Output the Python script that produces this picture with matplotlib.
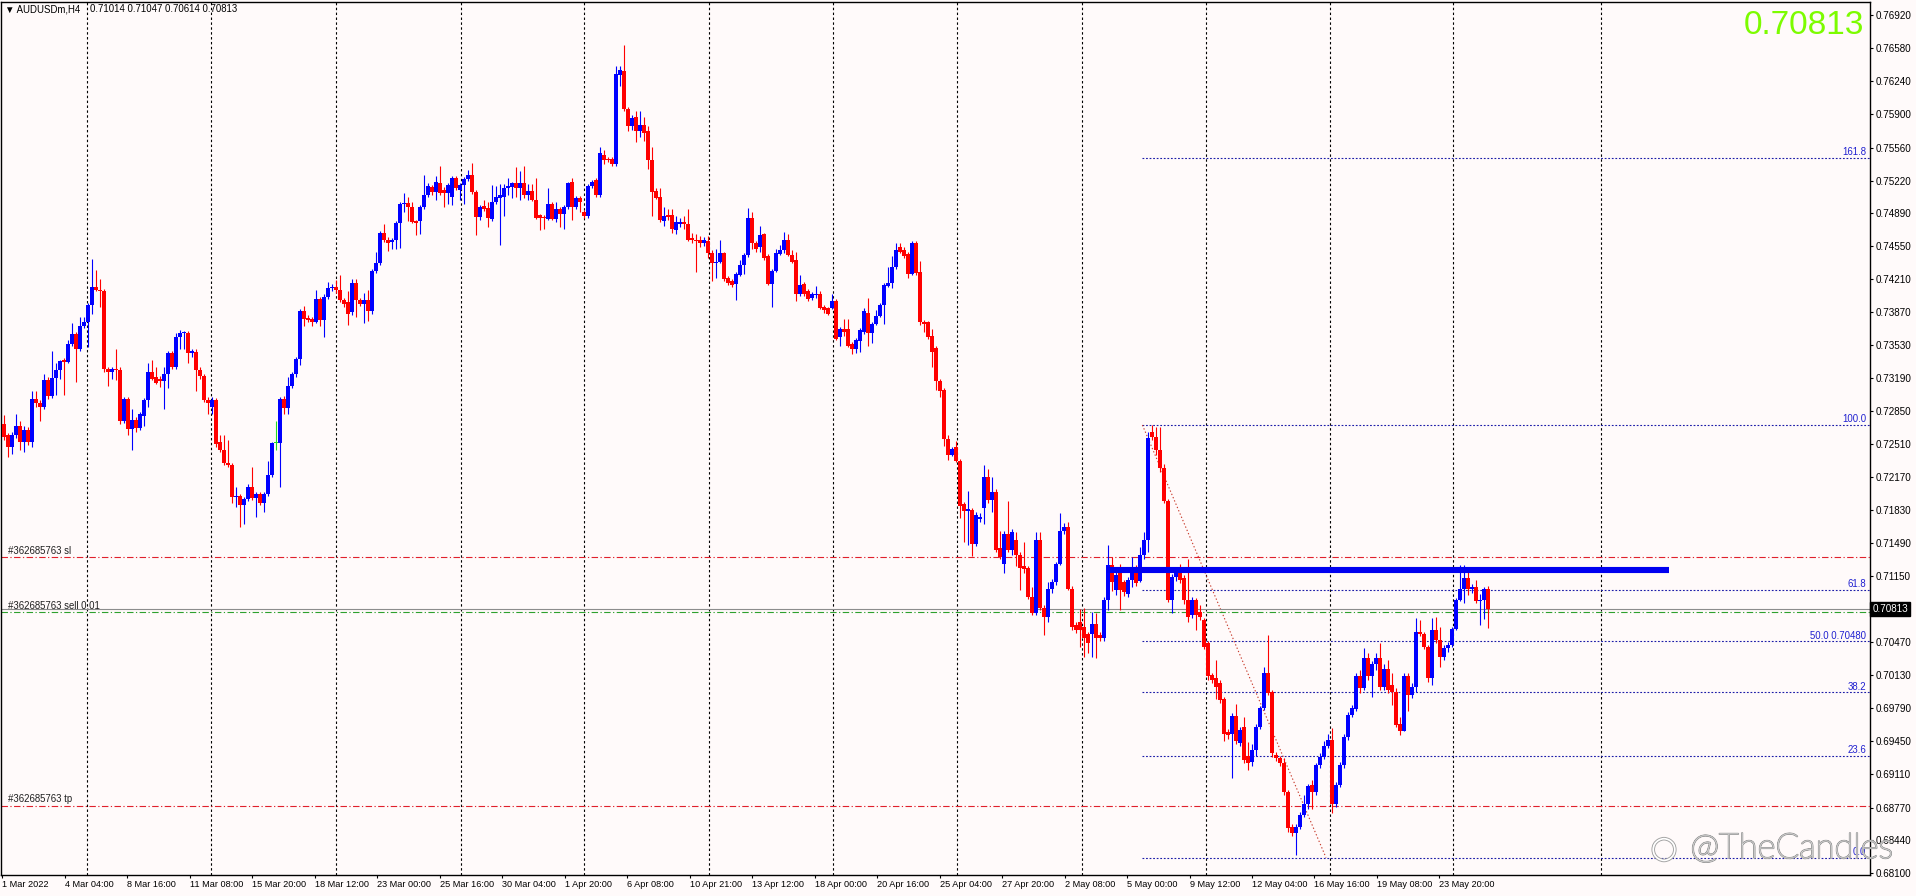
import numpy as np
import matplotlib.pyplot as plt
import matplotlib.patheffects as pe
from matplotlib.transforms import blended_transform_factory

# AUDUSDm H4 candles, prices in pips (x 0.0001)
opens = [
    7272, 7260, 7248, 7260, 7270, 7253, 7265, 7253, 7297, 7293, 7289, 7317, 7300, 7319, 7327, 7337, 7335, 7354, 7364, 7349,
    7372, 7377, 7394, 7413, 7409, 7408, 7328, 7325, 7328, 7327, 7275, 7297, 7266, 7276, 7267, 7280, 7296, 7325, 7320, 7318,
    7316, 7323, 7345, 7330, 7361, 7365, 7365, 7345, 7346, 7327, 7321, 7296, 7289, 7296, 7253, 7245, 7231, 7229, 7196, 7198,
    7188, 7194, 7207, 7195, 7200, 7190, 7200, 7219, 7252, 7252, 7297, 7288, 7311, 7323, 7338, 7388, 7381, 7380, 7377, 7400,
    7379, 7402, 7411, 7413, 7409, 7399, 7397, 7387, 7417, 7399, 7395, 7399, 7388, 7429, 7437, 7468, 7461, 7459, 7461, 7478,
    7498, 7499, 7495, 7480, 7480, 7495, 7507, 7515, 7510, 7520, 7512, 7509, 7505, 7525, 7512, 7517, 7524, 7528, 7510, 7485,
    7496, 7494, 7482, 7500, 7504, 7505, 7514, 7515, 7519, 7514, 7519, 7507, 7511, 7502, 7487, 7485, 7482, 7498, 7482, 7493,
    7488, 7495, 7521, 7495, 7504, 7490, 7486, 7516, 7523, 7507, 7548, 7544, 7544, 7539, 7631, 7635, 7596, 7578, 7587, 7573,
    7579, 7573, 7543, 7511, 7505, 7480, 7487, 7487, 7471, 7477, 7479, 7477, 7463, 7461, 7461, 7458, 7460, 7447, 7437, 7438,
    7447, 7422, 7419, 7416, 7425, 7435, 7445, 7483, 7458, 7454, 7467, 7444, 7416, 7429, 7446, 7451, 7461, 7445, 7440, 7405,
    7416, 7408, 7401, 7404, 7405, 7392, 7391, 7391, 7398, 7361, 7369, 7369, 7354, 7349, 7357, 7366, 7386, 7365, 7374, 7383,
    7394, 7414, 7417, 7433, 7454, 7451, 7446, 7426, 7458, 7428, 7377, 7377, 7362, 7350, 7316, 7307, 7256, 7240, 7248, 7234,
    7189, 7182, 7183, 7148, 7174, 7185, 7217, 7193, 7202, 7144, 7128, 7158, 7142, 7152, 7137, 7125, 7123, 7094, 7077, 7152,
    7082, 7073, 7102, 7109, 7128, 7161, 7166, 7102, 7065, 7068, 7063, 7056, 7056, 7066, 7055, 7051, 7091, 7126, 7101, 7118,
    7109, 7097, 7111, 7123, 7110, 7137, 7152, 7263, 7258, 7245, 7226, 7192, 7090, 7114, 7121, 7113, 7090, 7075, 7090, 7078,
    7070, 7046, 7013, 7010, 7005, 6989, 6955, 6953, 6971, 6943, 6960, 6930, 6924, 6936, 6960, 6979, 7015, 6996, 6931, 6928,
    6923, 6893, 6857, 6851, 6857, 6869, 6881, 6900, 6893, 6921, 6929, 6940, 6946, 6881, 6900, 6921, 6950, 6972, 6978, 7012,
    7000, 7031, 7012, 7025, 7031, 7001, 7020, 7003, 6996, 6963, 6956, 7012, 6993, 7001, 7058, 7056, 7042, 7010, 7060, 7049,
    7032, 7041, 7044, 7061, 7090, 7102, 7113, 7102, 7104, 7089, 7091, 7101.4]

highs = [
    7281, 7262, 7263, 7282, 7275, 7269, 7268, 7306, 7306, 7296, 7323, 7320, 7347, 7334, 7337, 7339, 7358, 7375, 7366, 7382,
    7382, 7396, 7441, 7430, 7421, 7410, 7330, 7330, 7349, 7330, 7299, 7299, 7287, 7279, 7284, 7298, 7334, 7337, 7330, 7321,
    7330, 7347, 7347, 7365, 7368, 7367, 7367, 7349, 7349, 7330, 7323, 7299, 7299, 7298, 7260, 7260, 7255, 7231, 7207, 7200,
    7196, 7210, 7227, 7202, 7202, 7202, 7233, 7253, 7275, 7299, 7300, 7320, 7325, 7340, 7390, 7393, 7384, 7382, 7409, 7402,
    7405, 7418, 7416, 7420, 7425, 7401, 7408, 7421, 7421, 7401, 7406, 7409, 7431, 7449, 7470, 7477, 7464, 7463, 7480, 7500,
    7509, 7505, 7500, 7481, 7497, 7528, 7519, 7517, 7527, 7537, 7515, 7519, 7527, 7527, 7519, 7526, 7533, 7540, 7512, 7497,
    7502, 7500, 7517, 7516, 7518, 7518, 7525, 7521, 7536, 7532, 7537, 7518, 7518, 7525, 7488, 7487, 7514, 7500, 7500, 7495,
    7497, 7521, 7525, 7506, 7506, 7492, 7518, 7523, 7525, 7557, 7553, 7546, 7546, 7640, 7640, 7661, 7598, 7589, 7594, 7594,
    7587, 7578, 7557, 7514, 7514, 7495, 7493, 7493, 7486, 7484, 7486, 7493, 7468, 7467, 7465, 7464, 7465, 7451, 7452, 7461,
    7448, 7424, 7421, 7428, 7440, 7447, 7494, 7490, 7460, 7475, 7468, 7446, 7431, 7452, 7456, 7469, 7467, 7451, 7449, 7425,
    7418, 7410, 7407, 7414, 7408, 7394, 7392, 7405, 7400, 7371, 7380, 7380, 7356, 7360, 7370, 7391, 7401, 7376, 7389, 7396,
    7417, 7433, 7444, 7458, 7458, 7454, 7448, 7460, 7460, 7439, 7379, 7378, 7369, 7352, 7318, 7309, 7260, 7248, 7254, 7236,
    7191, 7203, 7185, 7181, 7180, 7229, 7225, 7217, 7205, 7162, 7162, 7192, 7164, 7160, 7140, 7150, 7125, 7104, 7160, 7160,
    7085, 7109, 7112, 7130, 7180, 7170, 7171, 7105, 7068, 7081, 7082, 7058, 7078, 7077, 7058, 7094, 7147, 7135, 7120, 7128,
    7111, 7114, 7135, 7126, 7145, 7160, 7263, 7271, 7268, 7268, 7230, 7194, 7117, 7124, 7128, 7116, 7133, 7094, 7093, 7085,
    7072, 7048, 7015, 7029, 7008, 6991, 6958, 6974, 6984, 6960, 6970, 6944, 6942, 6963, 6981, 7022, 7055, 6998, 6934, 6930,
    6928, 6895, 6860, 6860, 6872, 6890, 6901, 6905, 6923, 6933, 6945, 6953, 6959, 6903, 6924, 6953, 6975, 6982, 7015, 7018,
    7041, 7036, 7028, 7036, 7046, 7025, 7029, 7015, 7000, 6970, 7015, 7015, 7005, 7072, 7070, 7058, 7044, 7072, 7073, 7063,
    7044, 7047, 7063, 7093, 7126, 7126, 7123, 7107, 7111, 7097, 7104, 7104.7]

lows = [
    7255, 7238, 7241, 7257, 7245, 7243, 7250, 7248, 7289, 7275, 7287, 7297, 7298, 7301, 7318, 7301, 7334, 7352, 7315, 7347,
    7370, 7351, 7385, 7408, 7392, 7325, 7311, 7318, 7317, 7272, 7273, 7260, 7245, 7263, 7265, 7270, 7289, 7317, 7313, 7310,
    7287, 7309, 7328, 7328, 7349, 7349, 7334, 7340, 7306, 7318, 7294, 7282, 7282, 7248, 7243, 7229, 7227, 7190, 7186, 7166,
    7169, 7192, 7193, 7176, 7188, 7181, 7198, 7217, 7245, 7207, 7282, 7282, 7309, 7320, 7332, 7372, 7376, 7372, 7375, 7372,
    7361, 7400, 7408, 7406, 7397, 7392, 7373, 7384, 7382, 7393, 7375, 7378, 7385, 7427, 7435, 7459, 7450, 7452, 7452, 7453,
    7490, 7480, 7478, 7466, 7467, 7493, 7505, 7507, 7502, 7507, 7495, 7498, 7497, 7512, 7502, 7498, 7522, 7508, 7466, 7481,
    7491, 7474, 7480, 7498, 7456, 7486, 7507, 7504, 7505, 7502, 7504, 7502, 7501, 7482, 7471, 7472, 7481, 7481, 7479, 7474,
    7472, 7493, 7481, 7493, 7490, 7484, 7484, 7514, 7505, 7505, 7539, 7541, 7537, 7537, 7619, 7594, 7573, 7574, 7562, 7567,
    7563, 7534, 7486, 7503, 7479, 7475, 7481, 7468, 7467, 7474, 7472, 7460, 7458, 7428, 7454, 7455, 7442, 7419, 7422, 7437,
    7419, 7415, 7412, 7399, 7424, 7426, 7443, 7452, 7449, 7449, 7440, 7415, 7392, 7428, 7445, 7447, 7444, 7437, 7398, 7403,
    7403, 7398, 7399, 7401, 7390, 7386, 7384, 7390, 7358, 7352, 7362, 7351, 7344, 7345, 7346, 7364, 7352, 7355, 7373, 7382,
    7374, 7413, 7411, 7431, 7447, 7442, 7422, 7425, 7425, 7373, 7366, 7359, 7330, 7307, 7299, 7249, 7235, 7239, 7232, 7175,
    7150, 7147, 7136, 7146, 7171, 7169, 7190, 7181, 7140, 7133, 7118, 7140, 7137, 7125, 7101, 7118, 7092, 7075, 7075, 7080,
    7055, 7068, 7098, 7106, 7126, 7158, 7101, 7060, 7057, 7042, 7032, 7036, 7032, 7031, 7048, 7048, 7080, 7100, 7096, 7080,
    7095, 7094, 7104, 7105, 7109, 7133, 7140, 7255, 7240, 7222, 7190, 7088, 7077, 7110, 7108, 7086, 7068, 7072, 7060, 7070,
    7040, 7008, 7005, 6989, 6985, 6945, 6948, 6907, 6942, 6940, 6923, 6916, 6920, 6930, 6958, 6977, 6993, 6929, 6925, 6920,
    6890, 6852, 6848, 6828, 6855, 6867, 6875, 6875, 6890, 6918, 6927, 6938, 6871, 6878, 6898, 6918, 6946, 6970, 6976, 6995,
    6998, 7008, 6991, 7019, 6998, 6998, 6995, 6983, 6960, 6952, 6956, 6976, 6990, 6996, 7053, 7040, 7006, 7003, 7046, 7022,
    7029, 7037, 7042, 7060, 7089, 7087, 7096, 7098, 7087, 7065, 7071, 7061.4]

closes = [
    7258, 7248, 7260, 7270, 7253, 7265, 7253, 7297, 7293, 7289, 7317, 7300, 7319, 7327, 7336, 7335, 7354, 7364, 7349, 7372,
    7377, 7394, 7413, 7409, 7408, 7328, 7325, 7328, 7327, 7275, 7297, 7266, 7276, 7267, 7282, 7296, 7325, 7318, 7314, 7316,
    7323, 7345, 7330, 7361, 7365, 7366, 7345, 7347, 7327, 7321, 7296, 7293, 7296, 7251, 7245, 7231, 7229, 7196, 7198, 7188,
    7194, 7207, 7195, 7200, 7190, 7200, 7219, 7252, 7252, 7297, 7288, 7311, 7323, 7338, 7388, 7380, 7379, 7377, 7400, 7379,
    7402, 7411, 7413, 7409, 7399, 7395, 7385, 7417, 7399, 7395, 7399, 7388, 7429, 7437, 7468, 7461, 7458, 7461, 7478, 7498,
    7499, 7495, 7479, 7478, 7495, 7507, 7516, 7510, 7521, 7509, 7509, 7517, 7525, 7514, 7517, 7524, 7528, 7510, 7485, 7495,
    7493, 7483, 7500, 7505, 7507, 7514, 7516, 7519, 7514, 7519, 7507, 7511, 7502, 7484, 7483, 7483, 7498, 7482, 7493, 7488,
    7495, 7520, 7495, 7504, 7500, 7486, 7516, 7521, 7507, 7550, 7543, 7543, 7539, 7632, 7636, 7596, 7578, 7586, 7573, 7579,
    7571, 7543, 7510, 7504, 7481, 7486, 7485, 7472, 7479, 7479, 7477, 7461, 7461, 7460, 7458, 7461, 7447, 7437, 7438, 7447,
    7421, 7417, 7415, 7426, 7435, 7445, 7483, 7458, 7452, 7466, 7442, 7416, 7429, 7447, 7451, 7461, 7445, 7438, 7405, 7415,
    7405, 7400, 7405, 7405, 7391, 7389, 7385, 7398, 7359, 7369, 7366, 7352, 7349, 7358, 7368, 7388, 7365, 7374, 7383, 7394,
    7415, 7417, 7433, 7451, 7449, 7444, 7426, 7458, 7427, 7376, 7374, 7361, 7346, 7316, 7306, 7256, 7240, 7246, 7233, 7187,
    7182, 7184, 7148, 7178, 7176, 7217, 7193, 7202, 7142, 7135, 7158, 7142, 7160, 7137, 7123, 7122, 7094, 7077, 7152, 7082,
    7073, 7102, 7109, 7128, 7161, 7166, 7102, 7063, 7060, 7060, 7051, 7046, 7066, 7051, 7051, 7091, 7126, 7109, 7116, 7101,
    7099, 7111, 7118, 7108, 7137, 7152, 7257, 7258, 7245, 7226, 7192, 7090, 7114, 7121, 7111, 7090, 7073, 7090, 7075, 7073,
    7042, 7012, 7008, 7001, 6988, 6953, 6952, 6971, 6945, 6957, 6926, 6923, 6936, 6960, 6979, 7015, 6995, 6933, 6928, 6923,
    6893, 6856, 6851, 6857, 6869, 6881, 6899, 6893, 6921, 6929, 6940, 6946, 6881, 6900, 6921, 6950, 6972, 6979, 7012, 7000,
    7031, 7012, 7025, 7031, 7001, 7020, 6998, 6996, 6962, 6956, 7012, 6993, 7001, 7058, 7056, 7042, 7010, 7060, 7049, 7032,
    7041, 7044, 7061, 7090, 7102, 7113, 7102, 7104, 7089, 7091, 7102, 7081.3]

time_labels = ["1 Mar 2022", "4 Mar 04:00", "8 Mar 16:00", "11 Mar 08:00", "15 Mar 20:00",
               "18 Mar 12:00", "23 Mar 00:00", "25 Mar 16:00", "30 Mar 04:00", "1 Apr 20:00",
               "6 Apr 08:00", "10 Apr 21:00", "13 Apr 12:00", "18 Apr 00:00", "20 Apr 16:00",
               "25 Apr 04:00", "27 Apr 20:00", "2 May 08:00", "5 May 00:00", "9 May 12:00",
               "12 May 04:00", "16 May 16:00", "19 May 08:00", "23 May 20:00"]

price_ticks = [0.76920, 0.76580, 0.76240, 0.75900, 0.75560, 0.75220, 0.74890, 0.74550,
               0.74210, 0.73870, 0.73530, 0.73190, 0.72850, 0.72510, 0.72170, 0.71830,
               0.71490, 0.71150, 0.70470, 0.70130, 0.69790, 0.69450, 0.69110, 0.68770,
               0.68440, 0.68100]

sl_price = 0.7135
tp_price = 0.6879
sell_price = 0.7078
bid_price = 0.70813
zone_price = 0.7121
fib_low, fib_high = 0.68255, 0.72705
fib_levels = [0.0, 23.6, 38.2, 50.0, 61.8, 100.0, 161.8]

o = np.array(opens) / 1e4
h = np.array(highs) / 1e4
l = np.array(lows) / 1e4
c = np.array(closes) / 1e4
x = np.arange(len(o))

BG = '#fffafa'
fig = plt.figure(figsize=(19.16, 8.96), dpi=100, facecolor=BG)
ax = fig.add_axes([1 / 1916, 21 / 896, 1869 / 1916, 873 / 896], facecolor=BG)
x_right = 466.5
ax.set_xlim(-0.75, x_right)
ax.set_ylim(0.68076, 0.77057)

# vertical dotted grid
for v in [20.7, 51.85, 83.0, 114.2, 145.0, 176.2, 207.35, 238.25, 269.4, 300.5, 331.4, 362.25, 399.25]:
    ax.axvline(v, color='black', lw=0.8, dashes=(2.2, 2.2), zorder=1)

# fibonacci retracement
fib_x0, fib_x1 = 284.6, 330.5
for lev in fib_levels:
    y = fib_low + lev / 100 * (fib_high - fib_low)
    ax.hlines(y, fib_x0, x_right, color='#1c1ca8', lw=0.8, linestyles=(0, (1.6, 1.6)), zorder=2)
    lab = f'{lev:.1f}' + (' 0.70480' if lev == 50.0 else '')
    ax.text(465.6, y + 0.00008, lab, ha='right', va='bottom', fontsize=6.9,
            color='#2020d0', family='Liberation Sans', zorder=3)
ax.plot([fib_x0, fib_x1], [fib_high, fib_low], color='#c83a2a', lw=0.8,
        ls=(0, (1.2, 2.0)), zorder=2)

# order lines
dd = (5.8, 2.2, 1.1, 2.2)
ax.axhline(sl_price, color='#e0202c', lw=0.8, dashes=dd, zorder=2)
ax.axhline(tp_price, color='#e0202c', lw=0.8, dashes=dd, zorder=2)
ax.axhline(sell_price, color='#2ea02e', lw=0.8, dashes=dd, zorder=2)
ax.axhline(bid_price, color='#8c8c8c', lw=0.8, zorder=2)
for yv, t in [(sl_price, '#362685763 sl'), (sell_price, '#362685763 sell 0.01'), (tp_price, '#362685763 tp')]:
    ax.text(1.0, yv + 0.00012, t, ha='left', va='bottom', fontsize=6.9,
            color='#202020', family='Liberation Sans', zorder=3)

# candles
cols = np.where(c > o, '#0000ff', np.where(c < o, '#ff0000', '#22dd22'))
ax.vlines(x, l, h, colors=cols, lw=0.8, zorder=4)
body_lo = np.minimum(o, c)
body_h = np.maximum(np.abs(c - o), 0.00009)
ax.bar(x, body_h, bottom=body_lo, width=0.78, color=cols, lw=0, zorder=5)

# resistance zone
ax.hlines(zone_price, 275.8, 416.3, color='#0000f0', lw=4.4, capstyle='butt', zorder=6)

# axes styling
for s in ax.spines.values():
    s.set_color('black')
    s.set_linewidth(1.0)
ax.yaxis.tick_right()
ax.set_yticks(price_ticks)
ax.set_yticklabels([f'{v:.5f}' for v in price_ticks])
ax.set_xticks(np.arange(len(time_labels)) * 15.62 - 0.4)
ax.set_xticklabels(time_labels, ha='left')
ax.tick_params(axis='y', length=2.2, width=0.8, pad=2, labelsize=7.1, colors='black')
ax.tick_params(axis='x', length=2.2, width=0.8, pad=1.5, labelsize=6.6, colors='black')
for t in ax.get_xticklabels() + ax.get_yticklabels():
    t.set_family('Liberation Sans')

# current bid box
tr = blended_transform_factory(ax.transAxes, ax.transData)
ax.text(1.0012, bid_price, '0.70813', transform=tr, ha='left', va='center', fontsize=7.1,
        color='white', family='Liberation Sans', clip_on=False, zorder=8,
        bbox=dict(boxstyle='square,pad=0.2', fc='black', ec='black'))

# header
fig.text(5 / 1916, 1 - 9 / 896, '\u25bc AUDUSDm,H4', ha='left', va='center', fontsize=6.9,
         family=['Liberation Sans', 'DejaVu Sans'])
fig.text(90 / 1916, 1 - 9 / 896, '0.71014 0.71047 0.70614 0.70813', ha='left', va='center',
         fontsize=6.9, family='Liberation Sans')

# big price
fig.text(1864 / 1916, 1 - 26 / 896, '0.70813', ha='right', va='center', fontsize=24,
         color='#7cfc00', family='Liberation Sans')

# watermark
wm = [pe.withStroke(linewidth=1.3, foreground='#a0a0a0')]
fig.text(1792 / 1916, 1 - 848 / 896, '@TheCandles', ha='center', va='center', fontsize=25,
         color='white', family='Lato', weight='light', path_effects=wm, zorder=10)
fig.text(1664 / 1916, 1 - 849 / 896, '\u25cb', ha='center', va='center', fontsize=22,
         color='white', family='DejaVu Sans', path_effects=wm, zorder=10)

fig.savefig('out.png', dpi=100, facecolor=BG)
